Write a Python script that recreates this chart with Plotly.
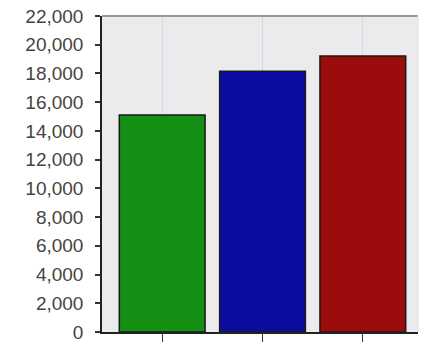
import plotly.graph_objects as go

categories = ["A", "B", "C"]
values = [15100, 18150, 19220]
colors = ["#138f13", "#0c0ca0", "#9c0c0c"]
y_ticks = list(range(0, 22001, 2000))
y_tick_labels = [f"{v:,}" for v in y_ticks]

fig = go.Figure()
fig.add_trace(go.Bar(
    x=categories, y=values,
    marker=dict(color=colors, line=dict(color="#1a1a1a", width=1.5)),
    width=0.855,
))

fig.update_layout(
    width=424, height=349,
    margin=dict(l=102, r=6, t=16, b=12),
    paper_bgcolor="white",
    plot_bgcolor="#ebebee",
    showlegend=False,
    font=dict(family="Liberation Sans, Arial, sans-serif", color="#444444"),
)
fig.update_xaxes(
    range=[-0.6, 2.55],
    showticklabels=False,
    ticks="outside", ticklen=8, tickcolor="#333333", tickwidth=1,
    showline=True, linecolor="#222222", linewidth=1.5,
    showgrid=True, gridcolor="#d8d8dc", gridwidth=1,
    mirror=False,
)
fig.update_yaxes(
    range=[0, 22000],
    tickvals=y_ticks, ticktext=y_tick_labels,
    ticks="outside", ticklen=5, tickcolor="#333333", tickwidth=1.5,
    tickfont=dict(size=19, color="#444444"),
    ticklabelstandoff=8,
    showline=True, linecolor="#222222", linewidth=1.5,
    showgrid=False,
    zeroline=False,
)
fig.add_shape(type="line", xref="paper", yref="paper", x0=0, x1=1, y0=1, y1=1,
              line=dict(color="#999999", width=2))
fig.add_shape(type="line", xref="paper", yref="paper", x0=1, x1=1, y0=0, y1=1,
              line=dict(color="#dddddd", width=1))

fig.write_html("out.html")
